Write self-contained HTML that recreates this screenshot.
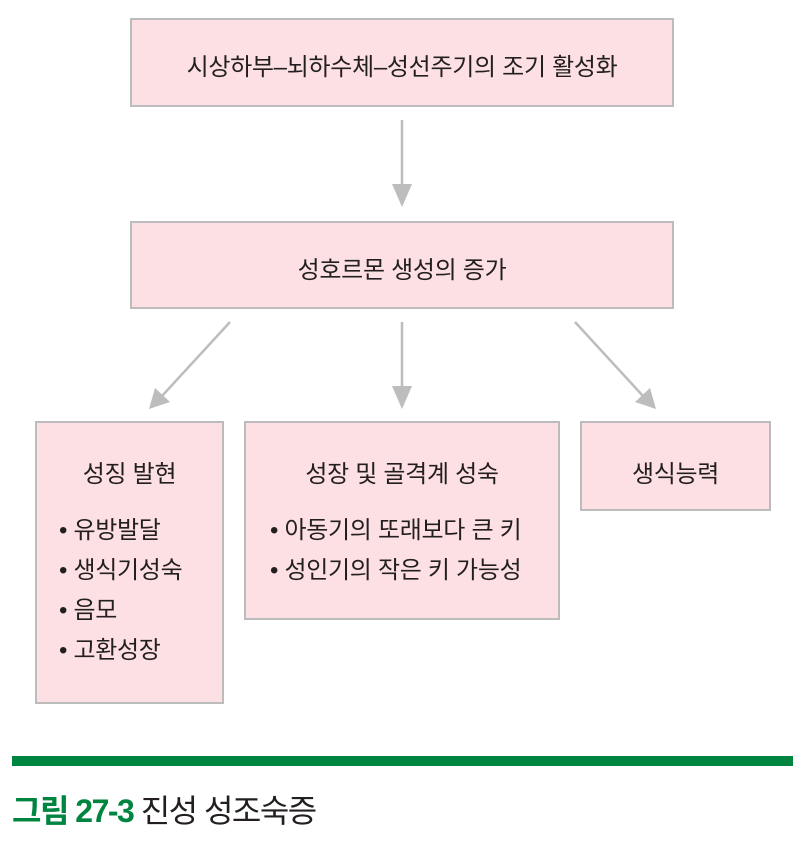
<!DOCTYPE html>
<html><head><meta charset="utf-8"><style>
body{margin:0;width:805px;height:854px;background:#fff;position:relative;font-family:"Liberation Sans","Noto Sans CJK KR",sans-serif;color:#231f20;overflow:hidden}
.b{position:absolute;background:#fde0e3;border:2px solid #bcbcbc;box-sizing:border-box}
.t{position:absolute;left:0;right:0;text-align:center;font-size:24px;white-space:nowrap;letter-spacing:-0.3px}
.l{position:absolute;font-size:24px;line-height:40px;white-space:nowrap;letter-spacing:-0.3px}
</style></head><body>
<div class="b" style="left:130px;top:18px;width:544px;height:89px"><div class="t" style="top:27px">시상하부–뇌하수체–성선주기의 조기 활성화</div></div>
<div class="b" style="left:130px;top:221px;width:544px;height:88px"><div class="t" style="top:27px">성호르몬 생성의 증가</div></div>
<div class="b" style="left:35px;top:421px;width:189px;height:283px"><div class="t" style="top:31px">성징 발현</div>
<div class="l" style="left:22px;top:88px">• 유방발달<br>• 생식기성숙<br>• 음모<br>• 고환성장</div></div>
<div class="b" style="left:244px;top:421px;width:316px;height:199px"><div class="t" style="top:31px">성장 및 골격계 성숙</div>
<div class="l" style="left:24px;top:88px">• 아동기의 또래보다 큰 키<br>• 성인기의 작은 키 가능성</div></div>
<div class="b" style="left:580px;top:421px;width:191px;height:90px"><div class="t" style="top:31px">생식능력</div></div>
<svg style="position:absolute;left:0;top:0" width="805" height="854">
<g stroke="#bdbdbd" stroke-width="2.5" fill="#bdbdbd">
<line x1="402" y1="120" x2="402" y2="190"/><polygon points="392,184 412,184 402,207" stroke="none"/>
<line x1="402" y1="322" x2="402" y2="392"/><polygon points="392,386 412,386 402,409" stroke="none"/>
<line x1="230" y1="322" x2="162" y2="396"/><polygon points="155,388 170,402 149,409" stroke="none"/>
<line x1="575" y1="322" x2="643" y2="396"/><polygon points="650,388 635,402 656,409" stroke="none"/>
</g>
<rect x="12" y="756" width="781" height="10" fill="#008540"/>
</svg>
<div style="position:absolute;left:12px;top:786px;font-size:32px;white-space:nowrap;letter-spacing:-1.5px"><span style="color:#008540;font-weight:bold">그림 27-3</span> 진성 성조숙증</div>
</body></html>
